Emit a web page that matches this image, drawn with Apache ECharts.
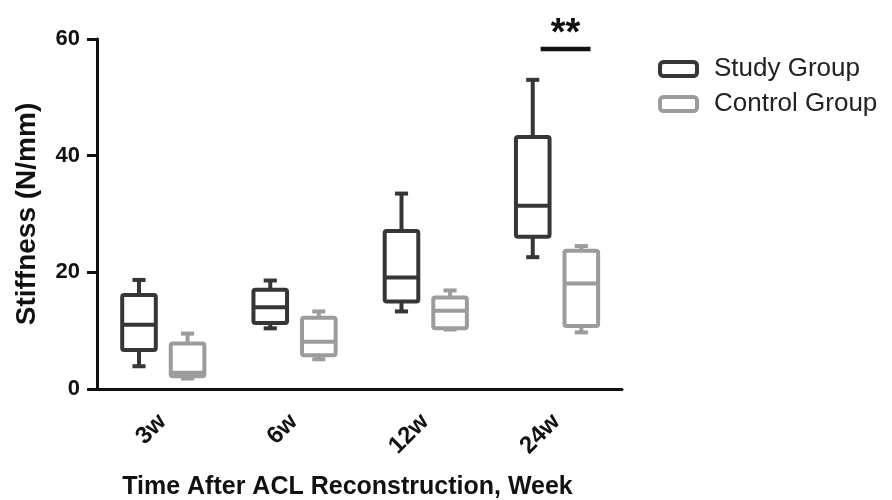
<!DOCTYPE html>
<html>
<head>
<meta charset="utf-8">
<script src="https://cdn.jsdelivr.net/npm/echarts@6/dist/echarts.min.js"></script>
<style>html,body{margin:0;padding:0;background:#fff}#c{width:892px;height:500px}</style>
</head>
<body>
<div id="c"></div>
<script>
// categories and box statistics [min, Q1, median, Q3, max]
var categories = ['3w', '6w', '12w', '24w'];
var studyStats = [
  [3.9, 6.7, 11.0, 16.1, 18.7],
  [10.4, 11.3, 14.0, 17.0, 18.6],
  [13.3, 15.0, 19.1, 27.1, 33.5],
  [22.6, 26.1, 31.4, 43.2, 53.0]
];
var controlStats = [
  [1.8, 2.2, 2.8, 7.8, 9.5],
  [5.1, 5.8, 8.1, 12.2, 13.3],
  [10.2, 10.4, 13.4, 15.7, 16.9],
  [9.7, 10.8, 18.1, 23.7, 24.5]
];
var yTicks = [0, 20, 40, 60];
var sigCategory = 3;
var sigLevel = 58.3;
var sigLabel = '**';

var studyColor = '#363636';
var controlColor = '#9c9c9c';
var FONT = '"Liberation Sans", Arial, sans-serif';

function toData(stats) {
  return stats.map(function (s, i) { return [i].concat(s); });
}

function boxRenderer(offsetFrac, color) {
  return function (params, api) {
    var cat = api.value(0);
    var band = api.size([1, 0])[0];
    var cx = api.coord([cat, 0])[0] + offsetFrac * band;
    var half = band * 0.128;
    var cap = band * 0.05;
    var yMin = api.coord([cat, api.value(1)])[1];
    var yQ1 = api.coord([cat, api.value(2)])[1];
    var yMed = api.coord([cat, api.value(3)])[1];
    var yQ3 = api.coord([cat, api.value(4)])[1];
    var yMax = api.coord([cat, api.value(5)])[1];
    var lw = 4;
    var st = { stroke: color, lineWidth: lw, fill: null };
    return {
      type: 'group',
      children: [
        { type: 'line', shape: { x1: cx, y1: yMax, x2: cx, y2: yQ3 }, style: st },
        { type: 'line', shape: { x1: cx, y1: yQ1, x2: cx, y2: yMin }, style: st },
        { type: 'line', shape: { x1: cx - cap, y1: yMax, x2: cx + cap, y2: yMax }, style: st },
        { type: 'line', shape: { x1: cx - cap, y1: yMin, x2: cx + cap, y2: yMin }, style: st },
        { type: 'rect', shape: { x: cx - half, y: yQ3, width: 2 * half, height: yQ1 - yQ3, r: 2 },
          style: { stroke: color, lineWidth: lw, fill: '#fff' } },
        { type: 'line', shape: { x1: cx - half, y1: yMed, x2: cx + half, y2: yMed }, style: st }
      ]
    };
  };
}

var chart = echarts.init(document.getElementById('c'), null, { renderer: 'canvas' });
chart.setOption({
  animation: false,
  backgroundColor: '#fff',
  grid: { left: 97, right: 270, top: 39, bottom: 111, containLabel: false, outerBoundsMode: 'none' },
  legend: {
    left: 653, top: 51, orient: 'vertical',
    itemWidth: 37, itemHeight: 14, itemGap: 9,
    textStyle: { fontFamily: FONT, fontSize: 26, color: '#222', padding: [0, 0, 0, 12] },
    data: [
      { name: 'Study Group', icon: 'roundRect', itemStyle: { color: 'rgba(0,0,0,0)', borderColor: studyColor, borderWidth: 4 } },
      { name: 'Control Group', icon: 'roundRect', itemStyle: { color: 'rgba(0,0,0,0)', borderColor: controlColor, borderWidth: 4 } }
    ]
  },
  xAxis: {
    type: 'category', data: categories, boundaryGap: true,
    axisLine: { lineStyle: { color: '#111', width: 3 } },
    axisTick: { alignWithLabel: true, length: 9, lineStyle: { color: '#111', width: 3 } },
    axisLabel: { rotate: 45, margin: 29, fontFamily: FONT, fontWeight: 'bold', fontSize: 24, color: '#111' },
    name: 'Time After ACL Reconstruction, Week', nameLocation: 'middle', nameGap: 86,
    nameTextStyle: { fontFamily: FONT, fontWeight: 'bold', fontSize: 25, color: '#111', padding: [0, 24, 0, 0] }
  },
  yAxis: {
    type: 'value', min: yTicks[0], max: yTicks[yTicks.length - 1], interval: 20,
    axisLine: { show: true, lineStyle: { color: '#111', width: 3 } },
    axisTick: { show: true, length: 10, lineStyle: { color: '#111', width: 3 } },
    splitLine: { show: false },
    axisLabel: { margin: 17, fontFamily: FONT, fontWeight: 'bold', fontSize: 22, color: '#111' },
    name: 'Stiffness (N/mm)', nameLocation: 'middle', nameGap: 56,
    nameTextStyle: { fontFamily: FONT, fontWeight: 'bold', fontSize: 28, color: '#111' }
  },
  series: [
    { name: 'Study Group', type: 'custom', itemStyle: { color: studyColor },
      renderItem: boxRenderer(-0.18, studyColor), data: toData(studyStats), clip: false,
      encode: { x: 0, y: [1, 2, 3, 4, 5] } },
    { name: 'Control Group', type: 'custom', itemStyle: { color: controlColor },
      renderItem: boxRenderer(0.19, controlColor), data: toData(controlStats), clip: false,
      encode: { x: 0, y: [1, 2, 3, 4, 5] } },
    { name: 'sig', type: 'custom', silent: true, clip: false,
      data: [[sigCategory, sigLevel]],
      renderItem: function (params, api) {
        var band = api.size([1, 0])[0];
        var p = api.coord([api.value(0), api.value(1)]);
        var x1 = p[0] - 0.12 * band, x2 = p[0] + 0.26 * band;
        return { type: 'group', children: [
          { type: 'line', shape: { x1: x1, y1: p[1], x2: x2, y2: p[1] }, style: { stroke: '#111', lineWidth: 4.5 } },
          { type: 'text', style: { text: sigLabel, x: (x1 + x2) / 2, y: p[1] - 33, textAlign: 'center', textVerticalAlign: 'top',
            font: 'bold 38px ' + FONT, fill: '#111' } }
        ] };
      } }
  ]
});
</script>
</body>
</html>
